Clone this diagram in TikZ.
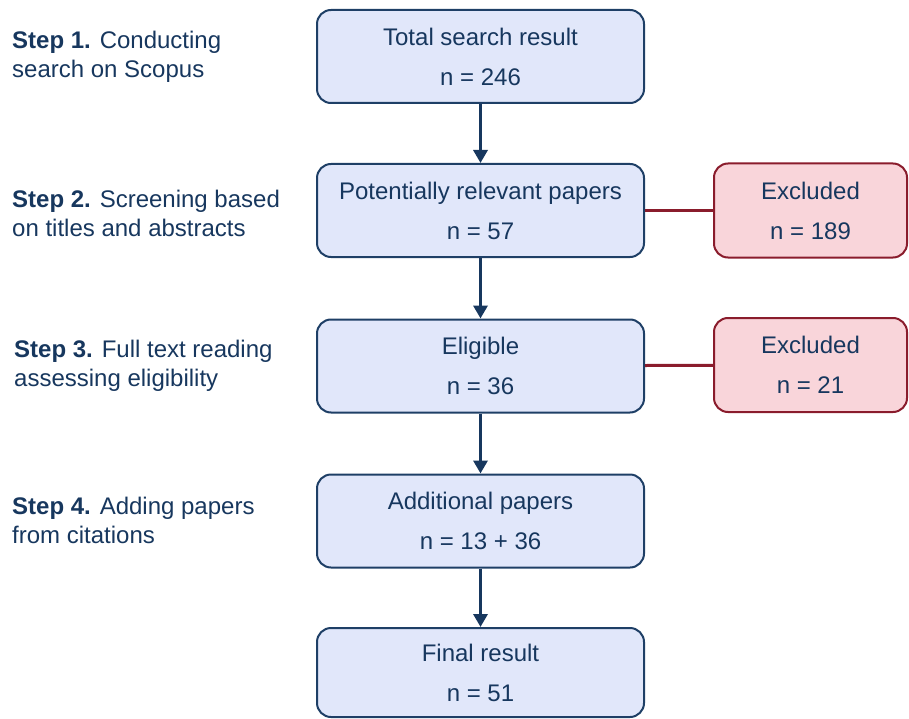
\documentclass[tikz,border=0pt]{standalone}
\usepackage{fontspec}
\setmainfont{Liberation Sans}
\usetikzlibrary{arrows.meta}
\definecolor{navy}{HTML}{17375E}
\definecolor{boxfill}{HTML}{E1E7FA}
\definecolor{boxline}{HTML}{1E3F66}
\definecolor{redfill}{HTML}{F9D5DA}
\definecolor{redline}{HTML}{8A1C2C}
\tikzset{
  mainbox/.style={draw=boxline, fill=boxfill, line width=2pt, rounded corners=14pt,
    minimum width=327pt, minimum height=93pt, inner sep=0pt, align=center,
    text=navy, font=\fontsize{24}{40}\selectfont},
  exbox/.style={draw=redline, fill=redfill, line width=2pt, rounded corners=14pt,
    minimum width=193pt, minimum height=94pt, inner sep=0pt, align=center,
    text=navy, font=\fontsize{24}{40}\selectfont},
  steptext/.style={anchor=west, inner sep=0pt, align=left, text=navy,
    font=\fontsize{24}{29}\selectfont},
  flow/.style={draw=navy, line width=3.5pt, -{Triangle[width=14pt,length=13pt]}},
  exline/.style={draw=redline, line width=3pt}
}
\begin{document}
\begin{tikzpicture}[x=1pt,y=-1pt]
\useasboundingbox (0,0) rectangle (909,719);
\node[mainbox] (b1) at (480.5,56.5) {Total search result\\n = 246};
\node[mainbox] (b2) at (480.5,210.5) {Potentially relevant papers\\n = 57};
\node[mainbox] (b3) at (480.5,366) {Eligible\\n = 36};
\node[mainbox] (b4) at (480.5,521) {Additional papers\\n = 13 + 36};
\node[mainbox, minimum height=89pt] (b5) at (480.5,672.5) {Final result\\n = 51};
\node[exbox] (e1) at (810.5,210.5) {Excluded\\n = 189};
\node[exbox] (e2) at (810.5,365) {Excluded\\n = 21};
\node[steptext] (s1) at (12,56.5) {\textbf{Step 1.} Conducting\\search on Scopus};
\node[steptext] (s2) at (12,213.5) {\textbf{Step 2.} Screening based\\on titles and abstracts};
\node[steptext] (s3) at (14,366) {\textbf{Step 3.} Full text reading\\assessing eligibility};
\node[steptext] (s4) at (12,520.5) {\textbf{Step 4.} Adding papers\\from citations};
\draw[flow] (b1) -- (b2);
\draw[flow] (b2) -- (b3);
\draw[flow] (b3) -- (b4);
\draw[flow] (b4) -- (b5);
\draw[exline] (b2) -- (e1);
\draw[exline] (b3) -- (e2);
\end{tikzpicture}
\end{document}
